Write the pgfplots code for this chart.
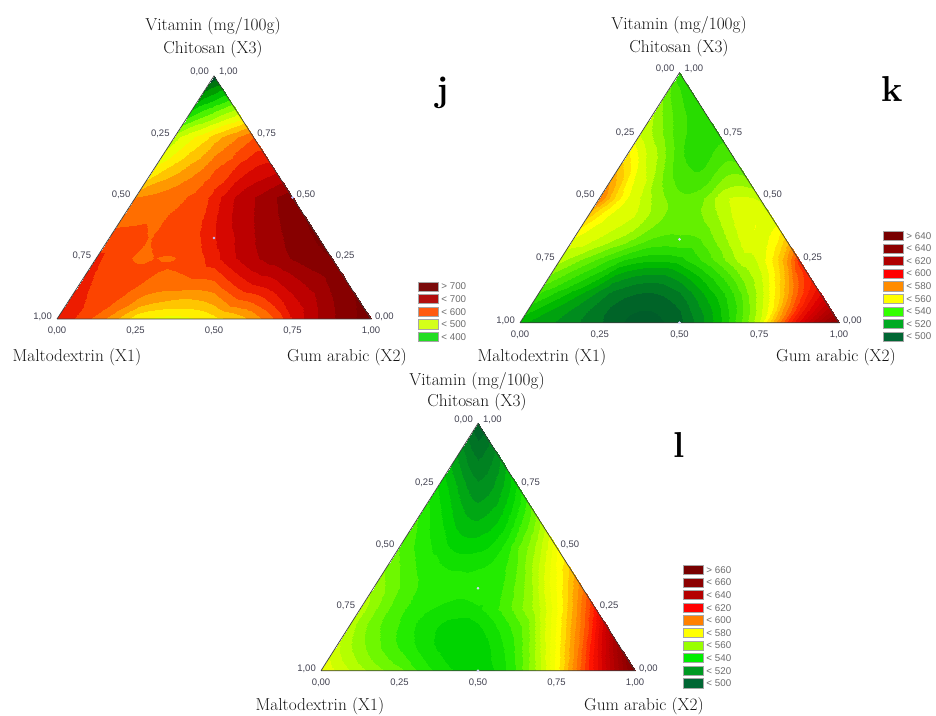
\begin{filecontents*}[overwrite]{ptab.dat}
0 2 20 1 11 10
0 20 18 10 19 9
2 4 22 3 13 12
2 22 20 12 21 11
4 6 24 5 15 14
4 24 22 14 23 13
6 8 26 7 17 16
6 26 24 16 25 15
18 20 38 19 29 28
18 38 36 28 37 27
20 22 40 21 31 30
20 40 38 30 39 29
22 24 42 23 33 32
22 42 40 32 41 31
24 26 44 25 35 34
24 44 42 34 43 33
36 38 56 37 47 46
36 56 54 46 55 45
38 40 58 39 49 48
38 58 56 48 57 47
40 42 60 41 51 50
40 60 58 50 59 49
42 44 62 43 53 52
42 62 60 52 61 51
54 56 80 55 65 63
56 58 80 57 67 65
58 60 80 59 69 67
60 62 80 61 71 69
\end{filecontents*}
\documentclass[border=0pt]{standalone}
\usepackage{pgfplots}
\pgfplotsset{compat=1.18}
\usepgfplotslibrary{patchplots}
\usepackage{pgfplotstable}
\usepackage{fontspec}
\newfontfamily\tickfont{Liberation Sans}

\definecolor{tickgray}{RGB}{65,65,80}
\definecolor{edgegray}{RGB}{60,60,60}
\definecolor{titlegray}{RGB}{20,20,20}
% legend colours j
\definecolor{ja}{RGB}{123,10,10}
\definecolor{jb}{RGB}{178,14,14}
\definecolor{jc}{RGB}{255,90,16}
\definecolor{jd}{RGB}{212,255,26}
\definecolor{je}{RGB}{34,221,34}
% k
\definecolor{ka}{RGB}{120,0,0}
\definecolor{kb}{RGB}{140,0,0}
\definecolor{kc}{RGB}{176,0,0}
\definecolor{kd}{RGB}{255,0,0}
\definecolor{ke}{RGB}{255,140,0}
\definecolor{kf}{RGB}{255,255,0}
\definecolor{kg}{RGB}{51,255,0}
\definecolor{kh}{RGB}{0,170,34}
\definecolor{ki}{RGB}{0,102,51}
% l
\definecolor{la}{RGB}{120,0,0}
\definecolor{lb}{RGB}{140,0,0}
\definecolor{lc}{RGB}{180,0,0}
\definecolor{ld}{RGB}{255,0,0}
\definecolor{le}{RGB}{255,128,0}
\definecolor{lf}{RGB}{255,255,0}
\definecolor{lg}{RGB}{153,255,0}
\definecolor{lh}{RGB}{0,238,0}
\definecolor{li}{RGB}{0,153,34}
\definecolor{lj}{RGB}{0,102,51}

\pgfplotsset{
 colormap={jbase}{rgb255(300pt)=(0,80,40); rgb255(340pt)=(0,140,0); rgb255(380pt)=(0,200,0);
   rgb255(410pt)=(40,235,0); rgb255(450pt)=(140,255,0); rgb255(490pt)=(220,255,0);
   rgb255(515pt)=(255,255,0); rgb255(540pt)=(255,215,0); rgb255(565pt)=(255,170,0);
   rgb255(590pt)=(255,125,0); rgb255(610pt)=(255,95,0); rgb255(635pt)=(250,50,0);
   rgb255(660pt)=(228,14,0); rgb255(690pt)=(200,0,0); rgb255(720pt)=(165,0,0);
   rgb255(750pt)=(135,0,0); rgb255(800pt)=(112,0,0)},
 colormap={jstep}{samples of colormap=(21 of jbase)},
 colormap={kbase}{rgb255(480pt)=(0,80,45); rgb255(495pt)=(0,100,40); rgb255(505pt)=(0,140,30);
   rgb255(515pt)=(0,185,0); rgb255(525pt)=(40,220,0); rgb255(535pt)=(100,240,0);
   rgb255(545pt)=(190,255,0); rgb255(555pt)=(255,255,0); rgb255(565pt)=(255,200,0);
   rgb255(575pt)=(255,140,0); rgb255(590pt)=(255,40,0); rgb255(605pt)=(220,0,0);
   rgb255(620pt)=(180,0,0); rgb255(640pt)=(140,0,0); rgb255(660pt)=(115,0,0)},
 colormap={kstep}{samples of colormap=(37 of kbase)},
 colormap={lbase}{rgb255(480pt)=(0,85,45); rgb255(495pt)=(0,100,40); rgb255(510pt)=(0,145,30);
   rgb255(525pt)=(0,212,0); rgb255(535pt)=(35,236,0); rgb255(545pt)=(110,248,0);
   rgb255(555pt)=(180,255,0); rgb255(565pt)=(230,255,0); rgb255(575pt)=(255,255,0);
   rgb255(590pt)=(255,160,0); rgb255(600pt)=(255,110,0); rgb255(615pt)=(255,20,0);
   rgb255(630pt)=(210,0,0); rgb255(645pt)=(170,0,0); rgb255(665pt)=(130,0,0);
   rgb255(690pt)=(110,0,0)},
 colormap={lstep}{samples of colormap=(43 of lbase)},
}

% u = position along the row (0 = Maltodextrin side, 1 = Gum arabic side), v = Chitosan (X3)
\pgfplotstableread{
u v c
0 0 650
0.125 0 600
0.25 0 520
0.375 0 505
0.5 0 530
0.625 0 570
0.75 0 660
0.875 0 725
1 0 765
0 0.125 645
0.125 0.125 620
0.25 0.125 598
0.375 0.125 590
0.5 0.125 595
0.625 0.125 645
0.75 0.125 677
0.875 0.125 712
1 0.125 752
0 0.25 640
0.125 0.25 612
0.25 0.25 610
0.375 0.25 614
0.5 0.25 648
0.625 0.25 690
0.75 0.25 715
0.875 0.25 738
1 0.25 752
0 0.375 610
0.125 0.375 612
0.25 0.375 612
0.375 0.375 622
0.5 0.375 655
0.625 0.375 688
0.75 0.375 712
0.875 0.375 735
1 0.375 755
0 0.5 585
0.125 0.5 595
0.25 0.5 605
0.375 0.5 616
0.5 0.5 642
0.625 0.5 680
0.75 0.5 703
0.875 0.5 725
1 0.5 745
0 0.625 515
0.125 0.625 540
0.25 0.625 560
0.375 0.625 580
0.5 0.625 605
0.625 0.625 620
0.75 0.625 645
0.875 0.625 660
1 0.625 668
0 0.75 480
0.125 0.75 500
0.25 0.75 515
0.375 0.75 530
0.5 0.75 550
0.625 0.75 565
0.75 0.75 580
0.875 0.75 595
1 0.75 610
0 0.875 385
0.125 0.875 395
0.25 0.875 405
0.375 0.875 413
0.5 0.875 420
0.625 0.875 428
0.75 0.875 437
0.875 0.875 445
1 0.875 452
0 1 310
0.125 1 310
0.25 1 310
0.375 1 310
0.5 1 310
0.625 1 310
0.75 1 310
0.875 1 310
1 1 310
}\jdata

\pgfplotstableread{
u v c
0 0 515
0.125 0 508
0.25 0 500
0.375 0 493
0.5 0 498
0.625 0 518
0.75 0 548
0.875 0 603
1 0 640
0 0.125 530
0.125 0.125 518
0.25 0.125 505
0.375 0.125 500
0.5 0.125 505
0.625 0.125 520
0.75 0.125 540
0.875 0.125 568
1 0.125 600
0 0.25 545
0.125 0.25 535
0.25 0.25 525
0.375 0.25 520
0.5 0.25 522
0.625 0.25 532
0.75 0.25 545
0.875 0.25 556
1 0.25 590
0 0.375 557
0.125 0.375 550
0.25 0.375 545
0.375 0.375 537
0.5 0.375 535
0.625 0.375 537
0.75 0.375 546
0.875 0.375 553
1 0.375 556
0 0.5 578
0.125 0.5 558
0.25 0.5 548
0.375 0.5 540
0.5 0.5 535
0.625 0.5 537
0.75 0.5 546
0.875 0.5 549
1 0.5 547
0 0.625 565
0.125 0.625 555
0.25 0.625 547
0.375 0.625 538
0.5 0.625 530
0.625 0.625 528
0.75 0.625 530
0.875 0.625 535
1 0.625 535
0 0.75 548
0.125 0.75 544
0.25 0.75 540
0.375 0.75 535
0.5 0.75 530
0.625 0.75 528
0.75 0.75 527
0.875 0.75 527
1 0.75 527
0 0.875 540
0.125 0.875 537
0.25 0.875 534
0.375 0.875 531
0.5 0.875 530
0.625 0.875 528
0.75 0.875 527
0.875 0.875 527
1 0.875 527
0 1 526
0.125 1 526
0.25 1 526
0.375 1 526
0.5 1 526
0.625 1 526
0.75 1 526
0.875 1 526
1 1 526
}\kdata

\pgfplotstableread{
u v c
0 0 568
0.125 0 555
0.25 0 545
0.375 0 532
0.5 0 525
0.625 0 540
0.75 0 575
0.875 0 620
1 0 665
0 0.125 558
0.125 0.125 545
0.25 0.125 535
0.375 0.125 527
0.5 0.125 526
0.625 0.125 538
0.75 0.125 565
0.875 0.125 600
1 0.125 645
0 0.25 556
0.125 0.25 543
0.25 0.25 536
0.375 0.25 532
0.5 0.25 533
0.625 0.25 542
0.75 0.25 556
0.875 0.25 582
1 0.25 615
0 0.375 550
0.125 0.375 542
0.25 0.375 537
0.375 0.375 535
0.5 0.375 535
0.625 0.375 538
0.75 0.375 550
0.875 0.375 570
1 0.375 590
0 0.5 543
0.125 0.5 537
0.25 0.5 532
0.375 0.5 527
0.5 0.5 527
0.625 0.5 532
0.75 0.5 543
0.875 0.5 555
1 0.5 572
0 0.625 538
0.125 0.625 532
0.25 0.625 526
0.375 0.625 520
0.5 0.625 518
0.625 0.625 521
0.75 0.625 528
0.875 0.625 538
1 0.625 550
0 0.75 528
0.125 0.75 523
0.25 0.75 518
0.375 0.75 513
0.5 0.75 510
0.625 0.75 512
0.75 0.75 516
0.875 0.75 522
1 0.75 530
0 0.875 513
0.125 0.875 510
0.25 0.875 507
0.375 0.875 504
0.5 0.875 503
0.625 0.875 504
0.75 0.875 506
0.875 0.875 509
1 0.875 512
0 1 495
0.125 1 495
0.25 1 495
0.375 1 495
0.5 1 495
0.625 1 495
0.75 1 495
0.875 1 495
1 1 495
}\ldata

\tikzset{tl/.style={font=\tickfont\fontsize{9.5}{10}\selectfont, text=tickgray, inner sep=0pt}}
\newcommand\tfont{\fontsize{17.3}{19}\selectfont}
\newcommand\lfont{\bfseries\fontsize{36}{40}\selectfont}

\newcommand\ternlabels{%
 \node[tl,anchor=base east,xshift=-5pt,yshift=1pt] at (axis cs:0.5,1,0) {0,00};
 \node[tl,anchor=base west,xshift=5pt,yshift=1pt] at (axis cs:0.5,1,0) {1,00};
 \node[tl,anchor=base east,xshift=-5pt] at (axis cs:0.375,0.75,0) {0,25};
 \node[tl,anchor=base east,xshift=-5pt] at (axis cs:0.25,0.5,0) {0,50};
 \node[tl,anchor=base east,xshift=-5pt] at (axis cs:0.125,0.25,0) {0,75};
 \node[tl,anchor=base east,xshift=-5pt,yshift=-1pt] at (axis cs:0,0,0) {1,00};
 \node[tl,anchor=base west,xshift=4pt] at (axis cs:0.625,0.75,0) {0,75};
 \node[tl,anchor=base west,xshift=4pt] at (axis cs:0.75,0.5,0) {0,50};
 \node[tl,anchor=base west,xshift=4pt] at (axis cs:0.875,0.25,0) {0,25};
 \node[tl,anchor=base west,xshift=4pt,yshift=-1pt] at (axis cs:1,0,0) {0,00};
 \node[tl,anchor=base,yshift=-15pt] at (axis cs:0,0,0) {0,00};
 \node[tl,anchor=base,yshift=-15pt] at (axis cs:0.25,0,0) {0,25};
 \node[tl,anchor=base,yshift=-15pt] at (axis cs:0.5,0,0) {0,50};
 \node[tl,anchor=base,yshift=-15pt] at (axis cs:0.75,0,0) {0,75};
 \node[tl,anchor=base,yshift=-15pt] at (axis cs:1,0,0) {1,00};
}

\pgfplotsset{tern/.style={
  view={0}{90}, hide axis, scale only axis, scale mode=stretch to fill,
  xmin=0, xmax=1, ymin=0, ymax=1, zmin=-1, zmax=1, clip=false,
  enlargelimits=false, anchor=south west,
  colormap access=piecewise constant,
  legend image code/.code={\draw[#1,draw=gray!70,line width=0.4pt] (0pt,-4.6pt) rectangle (20pt,4.6pt);},
  legend cell align=left,
  legend style={draw=none, fill=none, anchor=north west, inner sep=0pt, outer sep=0pt,
     font=\tickfont\fontsize{9.8}{10}\selectfont, text=gray!85!black,
     row sep=3.0pt, column sep=3pt,
     nodes={inner sep=0pt, text depth=0pt}},
 },
 tpatch/.style={patch, patch type=triangle quadr, patch table=ptab.dat, patch refines=3,
   patch to triangles, shader=interp, point meta=explicit, forget plot},
 tedge/.style={edgegray, line width=0.7pt, no marks, forget plot},
 tdot/.style={only marks, mark=*, mark size=1.1pt, color=#1, mark options={draw=#1, fill=#1}, forget plot},
}

\begin{document}
\begin{tikzpicture}
\useasboundingbox (0,0) rectangle (936pt,715pt);

% ---------------- j ----------------
\begin{axis}[tern, at={(57pt,396pt)}, width=314pt, height=243pt,
  colormap name=jstep, point meta min=300, point meta max=800,
  legend style={at={(1.1497,0.1535)}}]
\addplot3[tpatch] table[x expr={\thisrow{u}*(1-\thisrow{v})+0.5*\thisrow{v}}, y=v, z expr=0, meta=c] {\jdata};
\addplot3[tedge] coordinates {(0,0,0) (1,0,0) (0.5,1,0) (0,0,0)};
\addplot3[tdot={blue!25!white}] coordinates {(0.5,0.3333,0) (0.75,0.5,0)};
\ternlabels
\addlegendimage{fill=ja}\addlegendentry{> 700}
\addlegendimage{fill=jb}\addlegendentry{< 700}
\addlegendimage{fill=jc}\addlegendentry{< 600}
\addlegendimage{fill=jd}\addlegendentry{< 500}
\addlegendimage{fill=je}\addlegendentry{< 400}
\end{axis}

% ---------------- k ----------------
\begin{axis}[tern, at={(520pt,392.3pt)}, width=319pt, height=250pt,
  colormap name=kstep, point meta min=480, point meta max=660,
  legend style={at={(1.138,0.367)}}]
\addplot3[tpatch] table[x expr={\thisrow{u}*(1-\thisrow{v})+0.5*\thisrow{v}}, y=v, z expr=0, meta=c] {\kdata};
\addplot3[tedge] coordinates {(0,0,0) (1,0,0) (0.5,1,0) (0,0,0)};
\addplot3[tdot={blue!15!white}] coordinates {(0.5,0.3333,0) (0.5,0,0)};
\ternlabels
\addlegendimage{fill=ka}\addlegendentry{> 640}
\addlegendimage{fill=kb}\addlegendentry{< 640}
\addlegendimage{fill=kc}\addlegendentry{< 620}
\addlegendimage{fill=kd}\addlegendentry{< 600}
\addlegendimage{fill=ke}\addlegendentry{< 580}
\addlegendimage{fill=kf}\addlegendentry{< 560}
\addlegendimage{fill=kg}\addlegendentry{< 540}
\addlegendimage{fill=kh}\addlegendentry{< 520}
\addlegendimage{fill=ki}\addlegendentry{< 500}
\end{axis}

% ---------------- l ----------------
\begin{axis}[tern, at={(321pt,44.3pt)}, width=314pt, height=247.3pt,
  colormap name=lstep, point meta min=480, point meta max=690,
  legend style={at={(1.153,0.4274)}}]
\addplot3[tpatch] table[x expr={\thisrow{u}*(1-\thisrow{v})+0.5*\thisrow{v}}, y=v, z expr=0, meta=c] {\ldata};
\addplot3[tedge] coordinates {(0,0,0) (1,0,0) (0.5,1,0) (0,0,0)};
\addplot3[tdot={blue!15!white}] coordinates {(0.5,0.3333,0) (0.5,0,0)};
\ternlabels
\addlegendimage{fill=la}\addlegendentry{> 660}
\addlegendimage{fill=lb}\addlegendentry{< 660}
\addlegendimage{fill=lc}\addlegendentry{< 640}
\addlegendimage{fill=ld}\addlegendentry{< 620}
\addlegendimage{fill=le}\addlegendentry{< 600}
\addlegendimage{fill=lf}\addlegendentry{< 580}
\addlegendimage{fill=lg}\addlegendentry{< 560}
\addlegendimage{fill=lh}\addlegendentry{< 540}
\addlegendimage{fill=li}\addlegendentry{< 520}
\addlegendimage{fill=lj}\addlegendentry{< 500}
\end{axis}

% ---------------- texts ----------------
\begin{scope}[every node/.style={text=titlegray, font=\tfont, inner sep=0pt}]
\node[anchor=base] at (213pt,684pt) {Vitamin (mg/100g)};
\node[anchor=base] at (213pt,661pt) {Chitosan (X3)};
\node[anchor=base] at (77pt,353pt) {Maltodextrin (X1)};
\node[anchor=base] at (347pt,353pt) {Gum arabic (X2)};
\node[anchor=base] at (679pt,685pt) {Vitamin (mg/100g)};
\node[anchor=base] at (679pt,662.5pt) {Chitosan (X3)};
\node[anchor=base] at (542pt,353pt) {Maltodextrin (X1)};
\node[anchor=base] at (836pt,353pt) {Gum arabic (X2)};
\node[anchor=base] at (477pt,329.5pt) {Vitamin (mg/100g)};
\node[anchor=base] at (477pt,308pt) {Chitosan (X3)};
\node[anchor=base] at (320pt,4.5pt) {Maltodextrin (X1)};
\node[anchor=base] at (644pt,4.5pt) {Gum arabic (X2)};
\end{scope}
\begin{scope}[every node/.style={text=black, font=\lfont, inner sep=0pt}]
\node[anchor=base] at (443pt,613pt) {j};
\node[anchor=base] at (892pt,613pt) {k};
\node[anchor=base] at (679pt,257pt) {l};
\end{scope}
\end{tikzpicture}
\end{document}
